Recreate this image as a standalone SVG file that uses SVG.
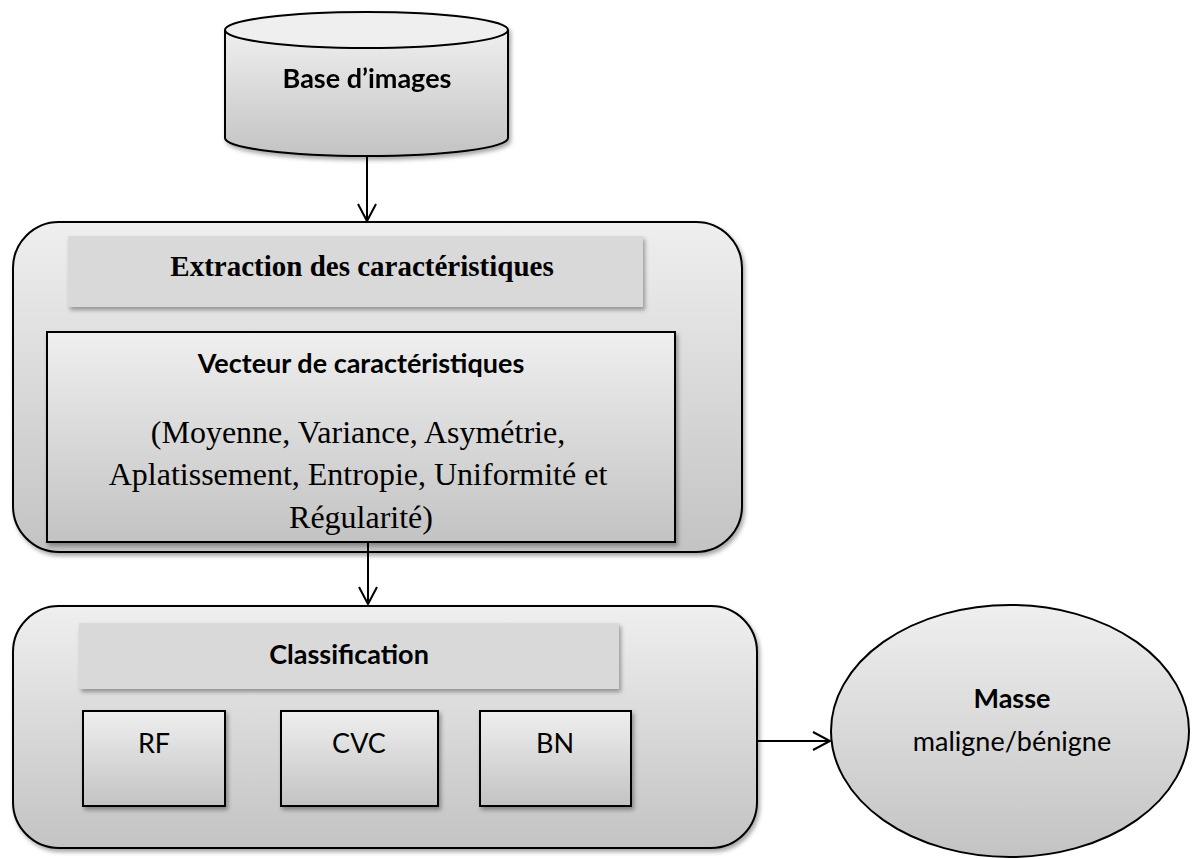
<svg xmlns="http://www.w3.org/2000/svg" width="1192" height="859" viewBox="0 0 1192 859">
  <defs>
    <linearGradient id="gShade" x1="0" y1="0" x2="0" y2="1">
      <stop offset="0" stop-color="#efefef"/>
      <stop offset="1" stop-color="#c3c3c3"/>
    </linearGradient>
    <filter id="shadow" x="-10%" y="-10%" width="125%" height="130%">
      <feDropShadow dx="2" dy="3" stdDeviation="2" flood-color="#000" flood-opacity="0.35"/>
    </filter>
    <marker id="openArrow" markerWidth="24" markerHeight="24" refX="18" refY="10" orient="auto" markerUnits="userSpaceOnUse">
      <path d="M1,1 L18,10 L1,19" fill="none" stroke="#000" stroke-width="2"/>
    </marker>
  </defs>
  <style>
    .box { fill: url(#gShade); stroke: #000; stroke-width: 2; }
    .head { fill: #d9d9d9; }
    .sans { font-family: Lato, "Open Sans", "Liberation Sans", sans-serif; fill: #000; font-size: 27px; }
    .serif { font-family: "Liberation Serif", "Times New Roman", serif; fill: #000; }
    .b { font-weight: bold; }
    .conn { stroke: #000; stroke-width: 2; fill: none; }
  </style>

  <!-- image database cylinder -->
  <g id="base-images" filter="url(#shadow)">
    <path class="box" d="M225,30 L225,138 A141.5,18 0 0 0 508,138 L508,30"/>
    <ellipse cx="366.5" cy="30" rx="141.5" ry="18" fill="#efefef" stroke="#000" stroke-width="2"/>
    <text class="sans b" x="367" y="88" text-anchor="middle">Base d’images</text>
  </g>

  <!-- feature extraction stage -->
  <g id="extraction">
    <rect class="box" x="13" y="222" width="729" height="330" rx="46" filter="url(#shadow)"/>
    <rect class="head" x="68" y="236" width="575" height="71" filter="url(#shadow)"/>
    <text class="serif b" x="362" y="276" font-size="29" text-anchor="middle">Extraction des caractéristiques</text>
  </g>

  <g id="vecteur">
    <rect class="box" x="47" y="332" width="628" height="210" filter="url(#shadow)"/>
    <text class="sans b" x="361" y="373" text-anchor="middle">Vecteur de caractéristiques</text>
    <text class="serif" font-size="32" text-anchor="middle">
      <tspan x="362" y="443">(Moyenne, Variance, Asymétrie,</tspan>
      <tspan x="362" y="485">Aplatissement, Entropie, Uniformité et</tspan>
      <tspan x="361" y="528">Régularité)</tspan>
    </text>
  </g>

  <!-- classification stage -->
  <g id="classification">
    <rect class="box" x="13" y="606" width="744" height="242" rx="46" filter="url(#shadow)"/>
    <rect class="head" x="79" y="623" width="540" height="66" filter="url(#shadow)"/>
    <text class="sans b" x="349" y="664" text-anchor="middle">Classification</text>
  </g>

  <g id="rf">
    <rect class="box" x="83" y="711" width="142" height="95" filter="url(#shadow)"/>
    <text class="sans" x="154" y="753" text-anchor="middle">RF</text>
  </g>

  <g id="cvc">
    <rect class="box" x="281" y="711" width="157" height="95" filter="url(#shadow)"/>
    <text class="sans" x="359" y="753" text-anchor="middle">CVC</text>
  </g>

  <g id="bn">
    <rect class="box" x="480" y="711" width="151" height="95" filter="url(#shadow)"/>
    <text class="sans" x="555" y="753" text-anchor="middle">BN</text>
  </g>

  <!-- result -->
  <g id="masse">
    <ellipse class="box" cx="1010" cy="731" rx="179" ry="126"/>
    <text class="sans b" x="1012" y="708" text-anchor="middle">Masse</text>
    <text class="sans" x="1012" y="751" text-anchor="middle">maligne/bénigne</text>
  </g>

  <!-- connectors -->
  <g id="connectors">
    <line class="conn" x1="367" y1="157" x2="367" y2="221" marker-end="url(#openArrow)"/>
    <line class="conn" x1="368" y1="542" x2="368" y2="604" marker-end="url(#openArrow)"/>
    <line class="conn" x1="757" y1="741" x2="830" y2="741" marker-end="url(#openArrow)"/>
  </g>
</svg>
